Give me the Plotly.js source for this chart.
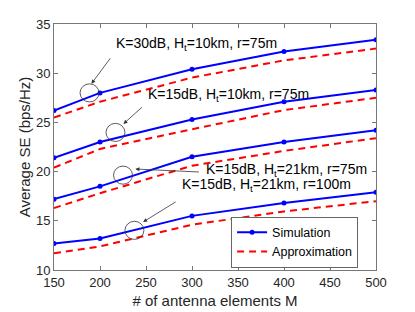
<!DOCTYPE html>
<html><head><meta charset="utf-8">
<script src="https://cdn.plot.ly/plotly-3.0.1.min.js"></script>
<style>html,body{margin:0;padding:0;background:#fff}#c{width:415px;height:312px}</style>
</head><body><div id="c"></div>
<script>
var M = [150, 200, 300, 400, 500];
var sim1 = [26.2, 28.0, 30.4, 32.2, 33.4];
var app1 = [25.5, 27.1, 29.55, 31.3, 32.5];
var sim2 = [21.4, 23.0, 25.3, 27.1, 28.3];
var app2 = [20.4, 22.3, 24.3, 26.25, 27.5];
var sim3 = [17.2, 18.5, 21.5, 23.0, 24.2];
var app3 = [16.3, 17.8, 20.6, 22.1, 23.4];
var sim4 = [12.7, 13.2, 15.5, 16.8, 17.9];
var app4 = [11.7, 12.4, 14.6, 15.95, 17.0];
var labels = ["K=30dB, H<sub>t</sub>=10km, r=75m", "K=15dB, H<sub>t</sub>=10km, r=75m",
              "K=15dB, H<sub>t</sub>=21km, r=75m", "K=15dB, H<sub>t</sub>=21km, r=100m"];

var sims = [sim1, sim2, sim3, sim4], apps = [app1, app2, app3, app4];
var data = [];
sims.forEach(function(s, i){
  data.push({x: M, y: s, mode: 'lines+markers', name: 'Simulation', showlegend: i === 0,
    line: {color: '#0000ff', width: 2}, marker: {color: '#0000ff', size: 5}});
});
apps.forEach(function(s, i){
  data.push({x: M, y: s, mode: 'lines', name: 'Approximation', showlegend: i === 0,
    line: {color: '#ff0000', width: 2, dash: '7px,5px'}});
});

var fam = 'Liberation Sans, Arial, sans-serif';
var tickFont = {family: fam, size: 13, color: '#262626'};
var titleFont = {family: fam, size: 15, color: '#262626'};
var txtPos = [[215.5, 33.0], [250.1, 27.8], [313.5, 20.2], [287.4, 18.65]];
var arrows = [[190.7, 28.93, 20, -27], [225.5, 24.85, 20, -18], [238.5, 20.26, 65, 3], [246.9, 14.88, 34, -21]];
var circles = [[188.6, 28.0], [216.8, 23.98], [225, 19.64], [237.4, 14.03]];

var ann = [];
labels.forEach(function(t, i){
  ann.push({x: txtPos[i][0], y: txtPos[i][1], text: t, showarrow: false, xanchor: 'left', yanchor: 'middle',
    font: {family: fam, size: 14, color: '#000'}});
  ann.push({x: arrows[i][0], y: arrows[i][1], ax: arrows[i][2], ay: arrows[i][3], text: '', showarrow: true,
    arrowhead: 2, arrowsize: 1, arrowwidth: 0.8, arrowcolor: '#333'});
});
var shapes = circles.map(function(c){
  return {type: 'circle', xref: 'x', yref: 'y', x0: c[0] - 10.3, x1: c[0] + 10.3, y0: c[1] - 0.92, y1: c[1] + 0.92,
    line: {color: '#333', width: 0.8}};
});

var axisCommon = {showgrid: false, zeroline: false, showline: true, linecolor: '#777', linewidth: 1,
  mirror: 'allticks', ticks: 'inside', ticklen: 4, tickcolor: '#777', tickfont: tickFont};
var layout = {
  width: 415, height: 312, margin: {l: 54, r: 39, t: 24, b: 42},
  paper_bgcolor: '#fff', plot_bgcolor: '#fff', font: tickFont,
  xaxis: Object.assign({}, axisCommon, {range: [150, 500], dtick: 50, tick0: 150,
    title: {text: '# of antenna elements M', font: titleFont, standoff: 6}}),
  yaxis: Object.assign({}, axisCommon, {range: [10, 35], dtick: 5,
    title: {text: 'Average SE (bps/Hz)', font: titleFont, standoff: 1}}),
  legend: {x: 0.55, y: 0.01, xanchor: 'left', yanchor: 'bottom', bordercolor: '#666', borderwidth: 1,
    bgcolor: '#fff', font: {family: fam, size: 12.5, color: '#000'}, tracegroupgap: 0, itemwidth: 30},
  annotations: ann, shapes: shapes
};
Plotly.newPlot('c', data, layout, {displayModeBar: false, staticPlot: true});
</script></body></html>
